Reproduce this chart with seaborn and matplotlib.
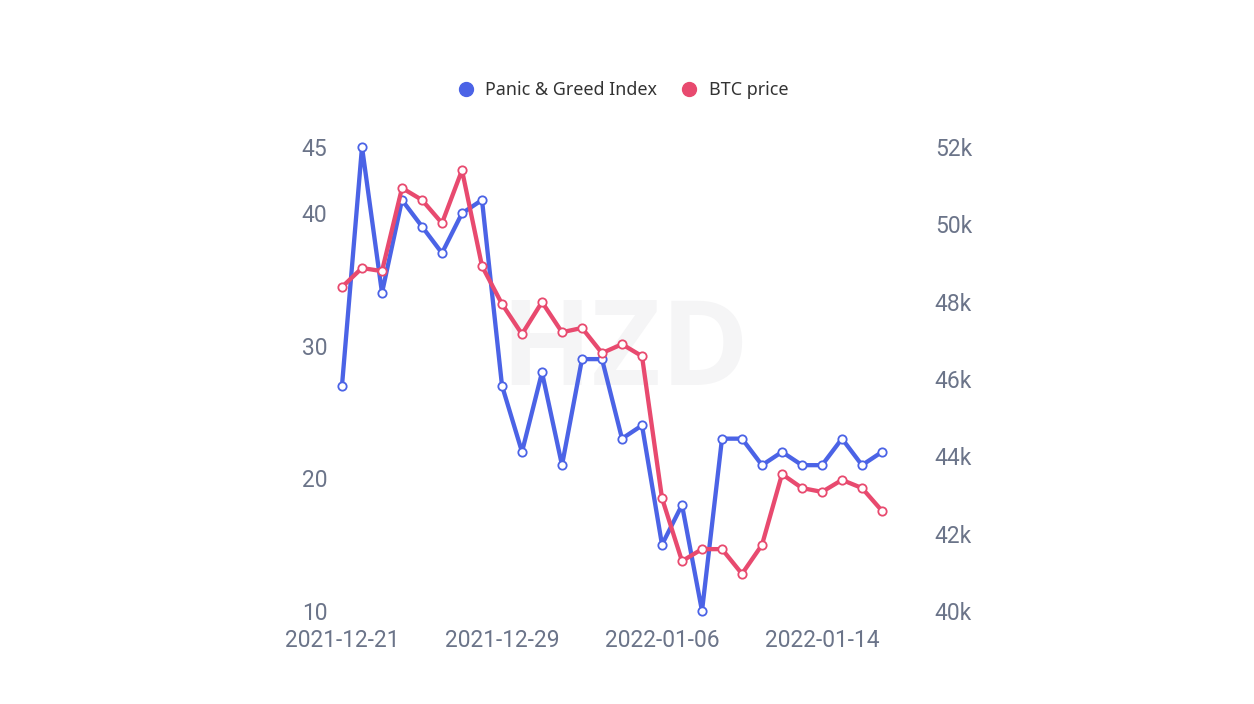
import pandas as pd
import matplotlib.pyplot as plt
import seaborn as sns

W, H = 1254, 704
BLUE = '#4b63e6'
RED = '#e84a6f'
GREY = '#6b7489'

dates = pd.date_range('2021-12-21', '2022-01-17', freq='D')
panic_index = [27, 45, 34, 41, 39, 37, 40, 41, 27, 22, 28, 21, 29, 29, 23, 24, 15, 18, 10, 23,
               23, 21, 22, 21, 21, 23, 21, 22]
btc_price = [48.38, 48.87, 48.79, 50.94, 50.63, 50.03, 51.40, 48.92, 47.94, 47.16, 47.99, 47.21,
             47.32, 46.67, 46.90, 46.59, 42.92, 41.29, 41.60, 41.60, 40.96, 41.71, 43.54, 43.18,
             43.08, 43.39, 43.18, 42.59]
left_ticks = [10, 20, 30, 40, 45]
right_ticks = [40, 42, 44, 46, 48, 50, 52]
date_ticks = ['2021-12-21', '2021-12-29', '2022-01-06', '2022-01-14']

df = pd.DataFrame({'date': dates, 'panic': panic_index, 'btc': btc_price})

sns.set_theme(style='white')
plt.rcParams['font.family'] = ['Roboto', 'DejaVu Sans']

fig = plt.figure(figsize=(W / 100, H / 100), dpi=100)
# axes box in pixels, matches where the ticks sit in the picture
ax = fig.add_axes([342 / W, 1 - 611 / H, 540 / W, 464 / H])
ax2 = ax.twinx()
ax2.patch.set_alpha(0)

# faint watermark, on the lower axes so the lines stay on top
ax.text(625 / W, 1 - 354 / H, 'HZD', color='#f5f5f6', fontsize=86, fontweight='bold',
        ha='center', va='center', family='Open Sans', transform=fig.transFigure, zorder=0)


def draw_line(axis, col, color):
    sns.lineplot(data=df, x='date', y=col, ax=axis, color=color, linewidth=3.1, marker='o',
                 markersize=6, markerfacecolor='white', markeredgecolor=color,
                 markeredgewidth=1.3, clip_on=False, legend=False, zorder=3)


draw_line(ax, 'panic', BLUE)
draw_line(ax2, 'btc', RED)

ax.set_xlim(dates[0], dates[-1])
ax.set_ylim(10, 45)
ax2.set_ylim(40, 52)

ax.set_yticks(left_ticks)
ax.set_yticklabels([str(v) for v in left_ticks], va='center_baseline')
ax2.set_yticks(right_ticks)
ax2.set_yticklabels([f'{v}k' for v in right_ticks], va='center_baseline')
ax.set_xticks(pd.to_datetime(date_ticks))
ax.set_xticklabels(date_ticks)

ax.set_xlabel('')
ax.set_ylabel('')
ax2.set_ylabel('')
ax.tick_params(axis='y', length=0, pad=10.5, labelsize=16.4, labelcolor=GREY)
ax2.tick_params(axis='y', length=0, pad=38, labelsize=16.4, labelcolor=GREY)
ax.tick_params(axis='x', length=0, pad=13.3, labelsize=16.4, labelcolor=GREY)
sns.despine(ax=ax, left=True, bottom=True)
sns.despine(ax=ax2, left=True, bottom=True, right=True)

# legend drawn as dots + text
handles = [plt.Line2D([], [], ls='', marker='o', ms=10, color=BLUE, label='Panic & Greed Index'),
           plt.Line2D([], [], ls='', marker='o', ms=10, color=RED, label='BTC price')]
fig.legend(handles=handles, loc='center', bbox_to_anchor=(618 / W, 1 - 90 / H), ncol=2,
           frameon=False, handletextpad=0.1, columnspacing=0.78,
           prop={'family': 'Noto Sans', 'size': 12.9, 'weight': 'medium'}, labelcolor='#333333')

fig.savefig('out.png', dpi=100, facecolor='white')
